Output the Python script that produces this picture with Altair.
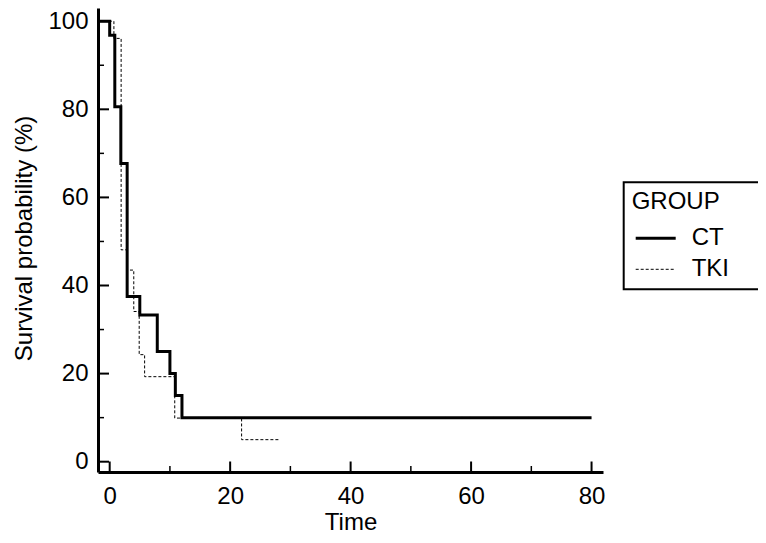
import altair as alt
import pandas as pd

# ---- data ----
groups = ["CT", "TKI"]
ct_time = [-1.8, 0.0, 0.85, 1.85, 2.9, 5.0, 7.9, 10.0, 10.9, 12.0, 80.0]
ct_surv = [100, 96.8, 80.6, 67.7, 37.5, 33.3, 25.0, 20.0, 15.0, 10.0, 10.0]
tki_time = [-1.8, 0.7, 1.9, 2.9, 4.0, 4.9, 5.8, 10.8, 21.9, 28.1]
tki_surv = [100, 96.1, 48.1, 43.5, 34.1, 24.3, 19.3, 9.9, 5.0, 5.0]

x_major = [0, 20, 40, 60, 80]
x_minor = [10, 30, 50, 70]
y_major = [0, 20, 40, 60, 80, 100]
y_minor = [10, 30, 50, 70, 90]

rows = []
for i, (t, s) in enumerate(zip(ct_time, ct_surv)):
    rows.append({"time": t, "surv": s, "group": "CT", "idx": i})
for i, (t, s) in enumerate(zip(tki_time, tki_surv)):
    rows.append({"time": t, "surv": s, "group": "TKI", "idx": i})
df = pd.DataFrame(rows)

FONT = "Liberation Sans"
W, H = 505, 464

xscale = alt.Scale(domain=[-1.94, 81.9], nice=False, zero=False)
yscale = alt.Scale(domain=[-2.34, 103.0], nice=False, zero=False)

xaxis = alt.Axis(values=x_major, ticks=False, tickSize=0, grid=False,
                 domainWidth=3, domainColor="black", labelColor="black",
                 labelFont=FONT, labelFontSize=24, labelPadding=12,
                 title="Time", titleFont=FONT, titleFontSize=24,
                 titleFontWeight="normal", titleColor="black",
                 titleBaseline="alphabetic", titleY=57)
yaxis = alt.Axis(values=y_major, ticks=False, tickSize=0, grid=False,
                 domainWidth=3, domainColor="black", labelColor="black",
                 labelFont=FONT, labelFontSize=24, labelPadding=10,
                 title="Survival probability (%)", titleFont=FONT,
                 titleFontSize=24, titleFontWeight="normal",
                 titleColor="black", titleAngle=270,
                 titleBaseline="alphabetic", titleAlign="center",
                 titleX=-67, titleY=230)

# trailing no-break spaces (kept by a final zero-width space) widen the box
legend = alt.Legend(
    title="GROUP" + "\u00a0" * 5 + "\u2009\u200b",
    orient="none", legendX=525.7, legendY=174.3,
    strokeColor="black", padding=8, rowPadding=7, titlePadding=12,
    titleFont=FONT, titleFontSize=24, titleFontWeight="normal",
    titleColor="black", labelFont=FONT, labelFontSize=24,
    labelColor="black", symbolType="M-2,0H2", symbolSize=400,
    symbolOffset=12, labelOffset=24, symbolStrokeColor="black",
)

lines = alt.Chart(df).mark_line(interpolate="step-after", color="black").encode(
    x=alt.X("time:Q", scale=xscale, axis=xaxis),
    y=alt.Y("surv:Q", scale=yscale, axis=yaxis),
    strokeDash=alt.StrokeDash("group:N",
                              scale=alt.Scale(domain=groups, range=[[1, 0], [3, 2]]),
                              legend=legend),
    strokeWidth=alt.StrokeWidth("group:N",
                                scale=alt.Scale(type="ordinal", domain=groups, range=[3, 1]),
                                legend=legend),
    order=alt.Order("idx:Q"),
)

xt_major = alt.Chart(pd.DataFrame({"time": x_major})).mark_rule(color="black", strokeWidth=2).encode(
    x=alt.X("time:Q", scale=xscale, axis=xaxis),
    y=alt.value(H), y2=alt.value(H - 10.5),
)
xt_minor = alt.Chart(pd.DataFrame({"time": x_minor})).mark_rule(color="black", strokeWidth=1.5).encode(
    x=alt.X("time:Q", scale=xscale, axis=xaxis),
    y=alt.value(H), y2=alt.value(H - 6),
)
yt_major = alt.Chart(pd.DataFrame({"surv": y_major})).mark_rule(color="black", strokeWidth=2).encode(
    y=alt.Y("surv:Q", scale=yscale, axis=yaxis),
    x=alt.value(0), x2=alt.value(11),
)
yt_minor = alt.Chart(pd.DataFrame({"surv": y_minor})).mark_rule(color="black", strokeWidth=1.5).encode(
    y=alt.Y("surv:Q", scale=yscale, axis=yaxis),
    x=alt.value(0), x2=alt.value(6),
)

chart = alt.layer(xt_major, xt_minor, yt_major, yt_minor, lines).properties(
    width=W, height=H,
    autosize=alt.AutoSizeParams(type="none"),
    padding={"left": 90, "top": 0, "right": 155, "bottom": 62},
    background="white",
).configure_view(stroke=None).configure_legend(strokeWidth=2)

chart.save("out.html", embed_options={"renderer": "svg", "actions": False})
